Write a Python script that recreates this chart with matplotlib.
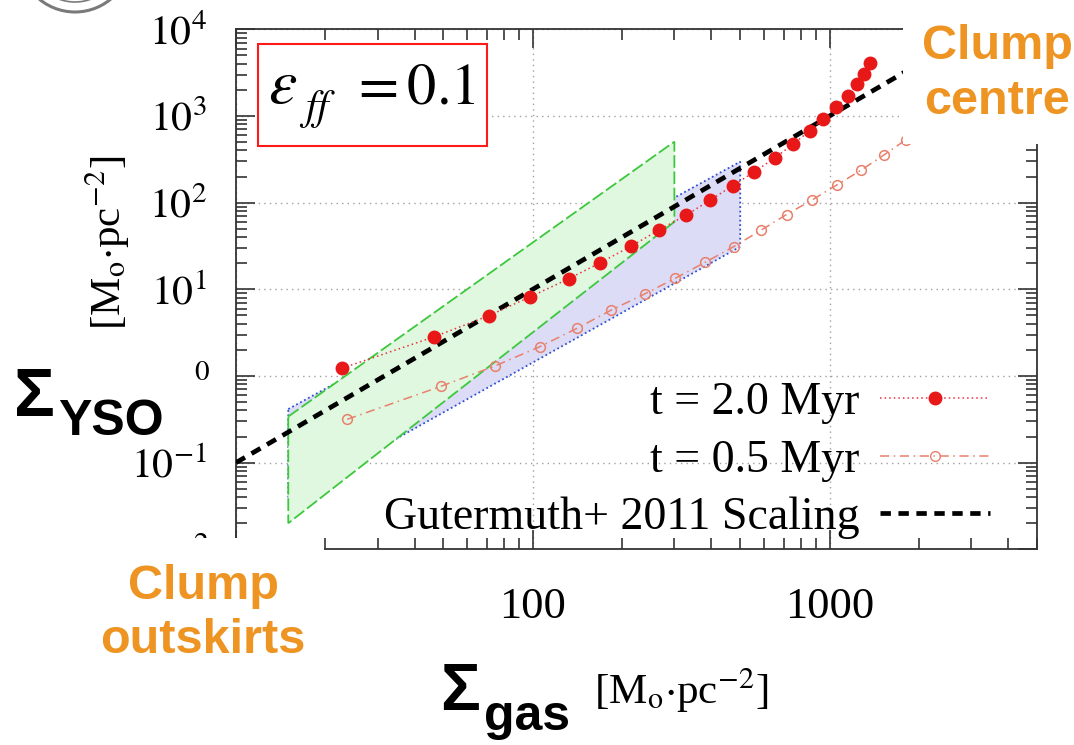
import matplotlib.pyplot as plt
from matplotlib.patches import Rectangle, Polygon, Ellipse
from matplotlib.lines import Line2D
from matplotlib.ticker import FixedLocator, LogLocator, NullFormatter

plt.rcParams['font.family'] = 'Liberation Serif'
plt.rcParams['mathtext.fontset'] = 'stix'

# surface densities in Msun/pc^2
gas_t20 = [22.8, 46.4, 71.1, 98.2, 132, 169, 215, 266, 329, 396, 472, 558,
           656, 752, 856, 949, 1053, 1152, 1240, 1304, 1371]
yso_t20 = [1.23, 2.82, 4.96, 8.22, 13.2, 20.3, 31.6, 48.3, 71.9, 107, 157,
           227, 330, 471, 671, 922, 1279, 1700, 2319, 3050, 4052]

gas_t05 = [23.7, 48.9, 74.8, 105.7, 141, 184, 238, 302, 381, 475, 589, 716,
           872, 1058, 1280, 1525, 1803]
yso_t05 = [0.316, 0.757, 1.31, 2.18, 3.55, 5.77, 8.82, 13.4, 20.5, 31.0,
           48.3, 72.9, 107, 160, 238, 355, 528]

# Gutermuth+ 2011 scaling end points
gut_gas = [10, 5000]
gut_yso = [0.1, 25000]

# observed ranges (shaded)
green_gas = [15, 300, 300, 15]
green_yso = [0.34, 505, 60, 0.02]
blue_gas = [15, 500, 500, 15]
blue_yso = [0.415, 297, 31, 0.038]

W, H = 1074, 745


def fx(px):
    return px / W


def fy(py):
    return 1 - py / H


fig = plt.figure(figsize=(W / 100, H / 100), dpi=100)
ax = fig.add_axes([fx(236), fy(549.3), (1037 - 236) / W, (549.3 - 29.3) / H])
ax.set_xscale('log')
ax.set_yscale('log')
ax.set_xlim(10, 5000)
ax.set_ylim(1e-2, 1e4)

ax.add_patch(Polygon(list(zip(blue_gas, blue_yso)), closed=True,
                     facecolor='#dcdcf6', edgecolor='#3050d0', lw=1.3,
                     linestyle=(0, (1, 1.5)), zorder=1))
ax.add_patch(Polygon(list(zip(green_gas, green_yso)), closed=True,
                     facecolor='#e0f8e0', edgecolor='none', zorder=1.5))
ax.add_patch(Polygon(list(zip(green_gas, green_yso)), closed=True,
                     facecolor='none', edgecolor='#3cc83c', lw=1.3,
                     linestyle=(0, (7, 2)), zorder=1.6))

ax.plot(gut_gas, gut_yso, color='black', lw=3.4, dashes=(2.2, 1.6), zorder=3)
ax.plot(gas_t05, yso_t05, color='#e8806c', lw=1.1, dashes=(6, 3, 1, 3),
        marker='o', ms=7, mfc='none', mec='#e8806c', mew=1.1, zorder=4)
ax.plot(gas_t20, yso_t20, color='#e83040', lw=1.1, linestyle=(0, (1, 2)),
        marker='o', ms=9, mfc='#e81818', mec='#e81818', zorder=5)

ax.set_axisbelow(True)
ax.grid(which='major', color='#a0a0a0', linestyle=(0, (1, 3)), lw=1.0)

ax.xaxis.set_major_locator(FixedLocator([10, 100, 1000]))
ax.set_xticklabels(['', '100', '1000'])
ax.xaxis.set_minor_locator(LogLocator(base=10, subs=range(2, 10)))
ax.xaxis.set_minor_formatter(NullFormatter())
yt = [1e-2, 1e-1, 1, 10, 100, 1000, 10000]
ax.yaxis.set_major_locator(FixedLocator(yt))
# 1e-2 and 1e0 labels are mostly under the annotation panels
ax.set_yticklabels(['', r'$10^{-1}$', '', r'$10^{1}$', r'$10^{2}$',
                    r'$10^{3}$', r'$10^{4}$'])
ax.yaxis.set_minor_locator(LogLocator(base=10, subs=range(2, 10)))
ax.yaxis.set_minor_formatter(NullFormatter())

ax.tick_params(which='both', direction='in', top=True, right=True,
               color='#333333', width=1.2)
ax.tick_params(which='major', length=14)
ax.tick_params(which='minor', length=8)
ax.tick_params(axis='x', which='major', pad=27, labelsize=32)
ax.tick_params(axis='y', which='major', pad=21, labelsize=30)
for sp in ax.spines.values():
    sp.set_color('#333333')
    sp.set_linewidth(1.3)

# exponents left visible next to the panels
fig.text(fx(210), fy(360), r'$0$', fontsize=21, ha='right', va='top',
         zorder=4)
fig.text(fx(210), fy(532), r'$-2$', fontsize=21, ha='right', va='top',
         zorder=4)

handles = [
    Line2D([], [], color='#e83040', lw=1.1, linestyle=(0, (1, 2)), marker='o',
           ms=9, mfc='#e81818', mec='#e81818'),
    Line2D([], [], color='#e8806c', lw=1.1, dashes=(6, 3, 1, 3), marker='o',
           ms=7, mfc='none', mec='#e8806c'),
    Line2D([], [], color='black', lw=3.4, dashes=(2.2, 1.6)),
]
labels = ['t = 2.0 Myr', 't = 0.5 Myr', 'Gutermuth+ 2011 Scaling']
leg = ax.legend(handles, labels, loc='upper right', frameon=False,
                markerfirst=False, fontsize=33, handlelength=2.4,
                handletextpad=0.45, labelspacing=0.32, borderpad=0,
                borderaxespad=0, bbox_to_anchor=(fx(990), fy(382)),
                bbox_transform=fig.transFigure)
leg.set_zorder(6)

# white panels behind the slide annotations
panels = [(903, 0, W, 144), (0, 538, 324, H), (0, 350, 192, 443)]
for x0, y0, x1, y1 in panels:
    fig.add_artist(Rectangle((fx(x0), fy(y1)), (x1 - x0) / W, (y1 - y0) / H,
                             transform=fig.transFigure, facecolor='white',
                             edgecolor='none', zorder=5))

# edge of the logo in the corner
for r, lw in [(56, 2.2), (46, 1.2)]:
    fig.add_artist(Ellipse((fx(75), fy(-44)), 2 * r / W, 2 * r / H,
                           transform=fig.transFigure, facecolor='none',
                           edgecolor='#7a7a7a', lw=lw, zorder=5))

fig.add_artist(Rectangle((fx(258), fy(146)), 229 / W, 102 / H,
                         transform=fig.transFigure, facecolor='white',
                         edgecolor='#ff1a1a', lw=1.5, zorder=5))
fig.text(fx(268), fy(103), r'$\varepsilon$', fontsize=46, ha='left',
         va='baseline', zorder=6)
fig.text(fx(299), fy(119), r'$ff$', fontsize=30, ha='left', va='baseline',
         zorder=6)
fig.text(fx(476), fy(104), r'$=0.1$', fontsize=42, ha='right',
         va='baseline', zorder=6)

orange = '#ee9422'
fig.text(fx(997), fy(24), 'Clump\ncentre', family='Liberation Sans',
         fontweight='bold', fontsize=35, color=orange, ha='center', va='top',
         linespacing=1.3, zorder=6)
fig.text(fx(203), fy(564), 'Clump\noutskirts', family='Liberation Sans',
         fontweight='bold', fontsize=35, color=orange, ha='center', va='top',
         linespacing=1.25, zorder=6)

fig.text(fx(14), fy(416), 'Σ', family='Liberation Sans', fontweight='bold',
         fontsize=49, va='baseline', zorder=6)
fig.text(fx(58), fy(435), 'YSO', family='Liberation Sans', fontweight='bold',
         fontsize=36, va='baseline', zorder=6)
fig.text(fx(440), fy(710), 'Σ', family='Liberation Sans', fontweight='bold',
         fontsize=48, va='baseline', zorder=6)
fig.text(fx(484), fy(730), 'gas', family='Liberation Sans', fontweight='bold',
         fontsize=36, va='baseline', zorder=6)

unit = r'[M$_{\mathrm{o}}$$\cdot$pc$^{-2}$]'
fig.text(fx(107), fy(243), unit, rotation=90, fontsize=31, ha='center',
         va='center', zorder=6)
fig.text(fx(681), fy(690), unit, fontsize=31, ha='center', va='center',
         zorder=6)

fig.savefig('out.png', dpi=100)
